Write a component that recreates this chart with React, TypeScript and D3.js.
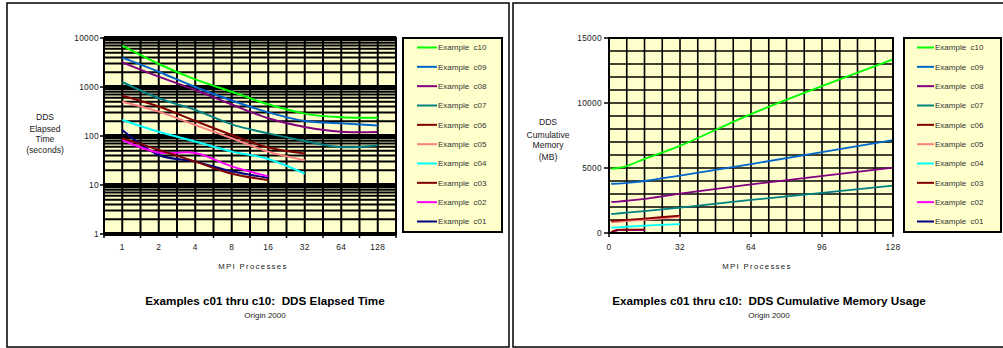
import React from "react";
import * as d3 from "d3";

// categories / x values
const procLabels = ["1", "2", "4", "8", "16", "32", "64", "128"];
const procs = [1, 2, 4, 8, 16, 32, 64, 128];

// legend order (top to bottom)
const seriesNames = [
  "Example  c10", "Example  c09", "Example  c08", "Example  c07", "Example  c06",
  "Example  c05", "Example  c04", "Example  c03", "Example  c02", "Example  c01",
];
const seriesColors = [
  "#00ff00", "#0066cc", "#800080", "#008080", "#800000",
  "#ff8080", "#00ffff", "#800000", "#ff00ff", "#000080",
];

// DDS elapsed time (seconds)
const timeC10 = [6960, 2950, 1430, 800, 443, 286, 240, 237];
const timeC09 = [3970, 2050, 1000, 530, 304, 202, 181, 163];
const timeC08 = [3190, 1625, 870, 440, 230, 153, 122, 121];
const timeC07 = [1265, 590, 340, 173, 113, 79, 59, 65];
const timeC06 = [665, 400, 202, 105, 58, 44];
const timeC05 = [500, 314, 168, 90, 48, 32];
const timeC04 = [212, 122, 77, 48, 34, 17];
const timeC03 = [90, 52, 30, 17, 12.7];
const timeC02 = [83, 46, 45, 24, 15];
const timeC01 = [133, 41, 30, 19, 14];

// DDS cumulative memory (MB)
const memC10 = [4950, 4960, 5000, 5150, 5700, 6700, 9150, 13350];
const memC09 = [3790, 3790, 3800, 3850, 4000, 4420, 5300, 7150];
const memC08 = [2400, 2400, 2420, 2480, 2620, 3030, 3740, 5030];
const memC07 = [1460, 1470, 1500, 1560, 1680, 1950, 2540, 3640];
const memC06 = [920, 930, 960, 1010, 1110, 1340];
const memC05 = [820, 830, 860, 910, 1010, 1240];
const memC04 = [410, 420, 440, 480, 560, 690];
const memC03 = [60, 150, 240, 250, 260];
const memC02 = [40, 130, 230, 240, 250];
const memC01 = [20, 110, 225, 228, 230];

const timeSeries = [timeC10, timeC09, timeC08, timeC07, timeC06, timeC05, timeC04, timeC03, timeC02, timeC01];
const memSeries = [memC10, memC09, memC08, memC07, memC06, memC05, memC04, memC03, memC02, memC01];

const FONT = "'Liberation Sans', Arial, sans-serif";
const BG = "#ffffcc";

const Legend = ({ x, y, w, h, lx1, lx2 }) => {
  const ly = d3.scaleLinear().domain([0, 9]).range([y + 9.5, y + 183.5]);
  return (
    <g>
      <rect x={x} y={y} width={w} height={h} fill={BG} stroke="#000" strokeWidth={2} />
      {seriesNames.map((name, i) => (
        <g key={name}>
          <line x1={lx1} x2={lx2} y1={ly(i)} y2={ly(i)} stroke={seriesColors[i]} strokeWidth={2} />
          <text x={lx2 + 1} y={ly(i) + 2.9} fontSize={8} fill="#333" style={{ whiteSpace: "pre" }}>
            {name}
          </text>
        </g>
      ))}
    </g>
  );
};

const ElapsedChart = () => {
  const x = d3.scaleBand().domain(procLabels).range([104, 396]).padding(0);
  const y = d3.scaleLog().domain([1, 10000]).range([234, 38]);
  const half = x.bandwidth() / 2;
  const vLines = d3.range(0, procLabels.length * 2 + 1).map((i) => 104 + i * half);
  const hLines = [];
  [1, 10, 100, 1000].forEach((d) => d3.range(1, 10).forEach((k) => hLines.push({ v: k * d, major: k === 1 })));
  hLines.push({ v: 10000, major: true });
  const line = d3
    .line()
    .x((d) => x(procLabels[d[0]]) + half)
    .y((d) => y(d[1]))
    .curve(d3.curveCatmullRom.alpha(0.5));

  return (
    <g>
      <rect x={7} y={3} width={502} height={344} fill="#fff" stroke="#000" strokeWidth={1.5} />
      <rect x={104} y={38} width={292} height={196} fill={BG} />
      {vLines.map((vx, i) => (
        <line key={"v" + i} x1={vx} x2={vx} y1={38} y2={234} stroke="#000" strokeWidth={2} />
      ))}
      {hLines.map((h, i) => (
        <line key={"h" + i} x1={104} x2={396} y1={y(h.v)} y2={y(h.v)} stroke="#000" strokeWidth={h.major ? 4 : 2} />
      ))}
      {timeSeries.map((s, i) => (
        <path key={i} d={line(s.map((v, j) => [j, v]))} fill="none" stroke={seriesColors[i]} strokeWidth={2} />
      )).reverse()}
      <rect x={104} y={38} width={292} height={196} fill="none" stroke="#000" strokeWidth={2} />
      {/* y axis */}
      {y.ticks().filter((t) => Number.isInteger(Math.log10(t))).map((t) => (
        <g key={t}>
          <line x1={100} x2={104} y1={y(t)} y2={y(t)} stroke="#000" strokeWidth={1.5} />
          <text x={99} y={y(t) + 3} textAnchor="end" fontSize={8.4} letterSpacing={0.3} fill="#222">{t}</text>
        </g>
      ))}
      {/* x axis */}
      {procLabels.map((c) => (
        <g key={c}>
          <line x1={x(c)} x2={x(c)} y1={234} y2={238} stroke="#000" strokeWidth={1.5} />
          <text x={x(c) + half} y={250} textAnchor="middle" fontSize={8.4} letterSpacing={0.3} fill="#222">{c}</text>
        </g>
      ))}
      <line x1={396} x2={396} y1={234} y2={238} stroke="#000" strokeWidth={1.5} />
      <text textAnchor="middle" fontSize={8.6} fill="#222">
        <tspan x={45} y={120}>DDS</tspan>
        <tspan x={45} y={131.5}>Elapsed</tspan>
        <tspan x={45} y={141.5}>Time</tspan>
        <tspan x={45} y={153}>(seconds)</tspan>
      </text>
      <text x={253} y={269} textAnchor="middle" fontSize={7.8} letterSpacing={1.3} fill="#222">MPI Processes</text>
      <text x={265} y={305} textAnchor="middle" fontSize={11.7} fontWeight="bold" style={{ whiteSpace: "pre" }}>
        Examples c01 thru c10:  DDS Elapsed Time
      </text>
      <text x={265} y={318} textAnchor="middle" fontSize={8} fill="#222">Origin 2000</text>
      <Legend x={403} y={38} w={99} h={194} lx1={417} lx2={437} />
    </g>
  );
};

const MemoryChart = () => {
  const x = d3.scaleLinear().domain([0, 128]).range([609, 893]);
  const y = d3.scaleLinear().domain([0, 15000]).range([233, 38]);
  const vLines = d3.range(0, 129, 8);
  const hLines = d3.range(0, 15001, 1000);
  const line = d3
    .line()
    .x((d) => x(d[0]))
    .y((d) => y(d[1]))
    .curve(d3.curveCatmullRom.alpha(0.5));

  return (
    <g>
      <rect x={513} y={3} width={500} height={344} fill="#fff" stroke="#000" strokeWidth={1.5} />
      <rect x={609} y={38} width={284} height={195} fill={BG} />
      {vLines.map((v) => (
        <line key={"v" + v} x1={x(v)} x2={x(v)} y1={38} y2={233} stroke="#000" strokeWidth={1.6} />
      ))}
      {hLines.map((v) => (
        <line key={"h" + v} x1={609} x2={893} y1={y(v)} y2={y(v)} stroke="#000" strokeWidth={1.6} />
      ))}
      {memSeries.map((s, i) => (
        <path key={i} d={line(s.map((v, j) => [procs[j], v]))} fill="none" stroke={seriesColors[i]} strokeWidth={1.8} />
      )).reverse()}
      <rect x={609} y={38} width={284} height={195} fill="none" stroke="#000" strokeWidth={2} />
      {d3.range(0, 15001, 5000).map((t) => (
        <g key={t}>
          <line x1={604} x2={609} y1={y(t)} y2={y(t)} stroke="#000" strokeWidth={1.5} />
          <text x={602} y={y(t) + 3} textAnchor="end" fontSize={8.4} letterSpacing={0.3} fill="#222">{t}</text>
        </g>
      ))}
      {d3.range(0, 129, 32).map((t) => (
        <g key={t}>
          <line x1={x(t)} x2={x(t)} y1={233} y2={237} stroke="#000" strokeWidth={1.5} />
          <text x={x(t)} y={250} textAnchor="middle" fontSize={8.4} letterSpacing={0.3} fill="#222">{t}</text>
        </g>
      ))}
      <text textAnchor="middle" fontSize={8.6} fill="#222">
        <tspan x={548} y={125}>DDS</tspan>
        <tspan x={548} y={137.5}>Cumulative</tspan>
        <tspan x={548} y={148}>Memory</tspan>
        <tspan x={548} y={160}>(MB)</tspan>
      </text>
      <text x={757} y={269} textAnchor="middle" fontSize={7.8} letterSpacing={1.3} fill="#222">MPI Processes</text>
      <text x={769} y={305} textAnchor="middle" fontSize={11.7} fontWeight="bold" style={{ whiteSpace: "pre" }}>
        Examples c01 thru c10:  DDS Cumulative Memory Usage
      </text>
      <text x={769} y={318} textAnchor="middle" fontSize={8} fill="#222">Origin 2000</text>
      <Legend x={904} y={38} w={97} h={194} lx1={917} lx2={934} />
    </g>
  );
};

export default function App() {
  return (
    <svg
      width={1003}
      height={348}
      style={{ position: "absolute", left: 0, top: 0, background: "#fff", fontFamily: FONT }}
    >
      <ElapsedChart />
      <MemoryChart />
    </svg>
  );
}
